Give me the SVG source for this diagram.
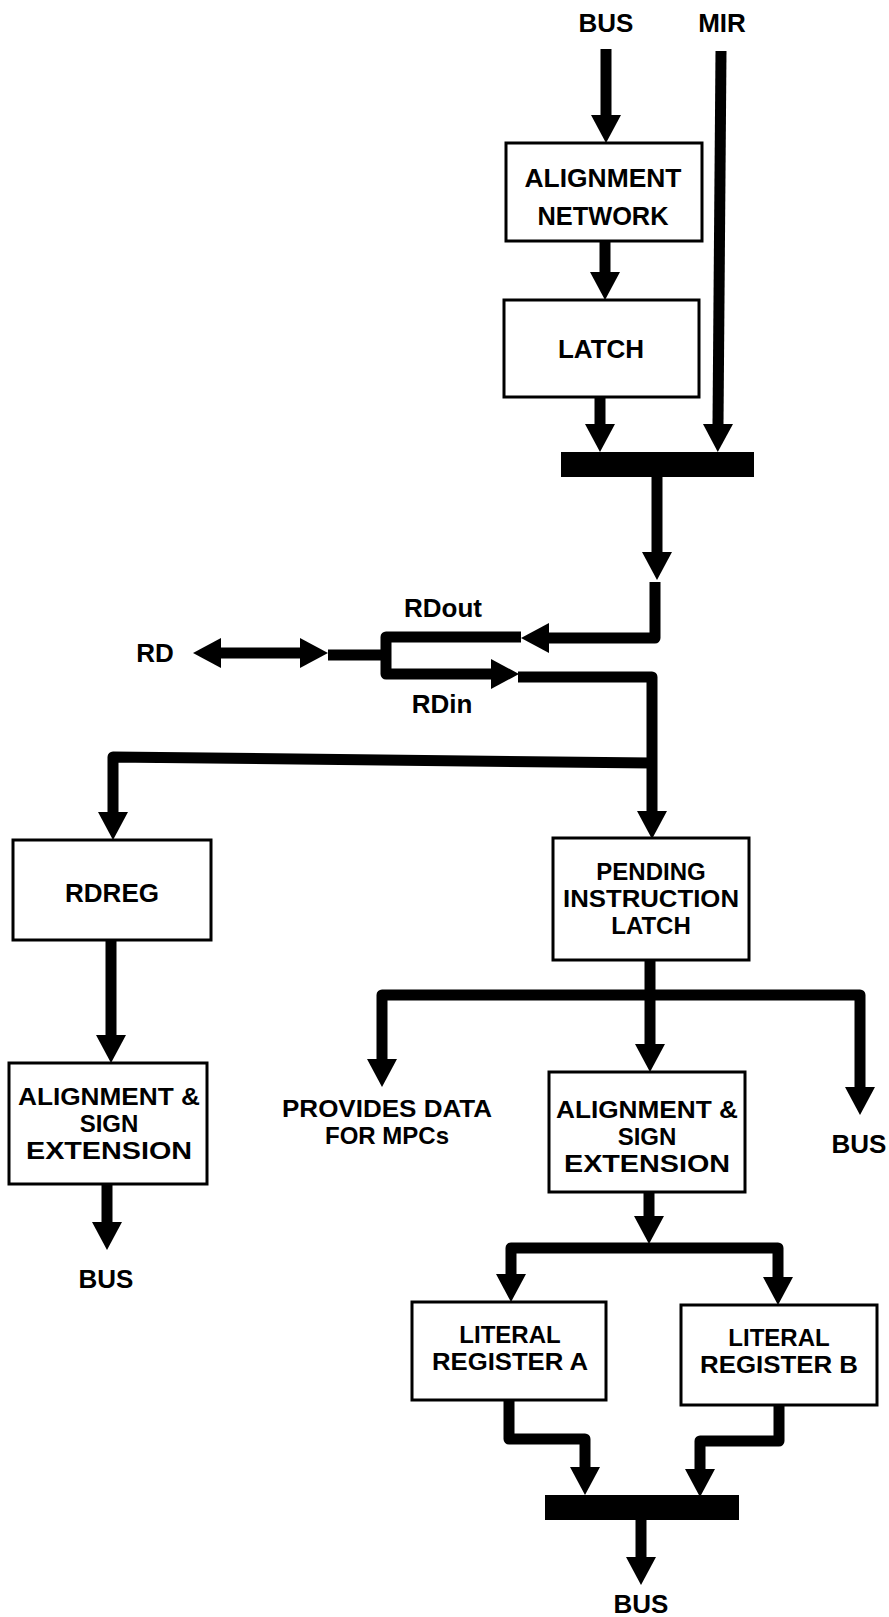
<svg xmlns="http://www.w3.org/2000/svg" width="889" height="1617" viewBox="0 0 889 1617">
<style>
.box{fill:#fff;stroke:#000;stroke-width:3}
.t{font-family:"Liberation Sans",Arial,sans-serif;font-weight:bold;font-size:24px;fill:#000;text-anchor:middle}
.s{font-size:26px}
.w{fill:none;stroke:#000;stroke-width:11;stroke-linejoin:round}
.a{marker-end:url(#ah)}
.b{marker-start:url(#ah);marker-end:url(#ah)}
</style>
<defs>
<marker id="ah" markerUnits="userSpaceOnUse" markerWidth="28" markerHeight="30" refX="0" refY="15" orient="auto-start-reverse" overflow="visible">
<path d="M0,0 L28,15 L0,30 Z" fill="#000"/>
</marker>
</defs>
<rect width="889" height="1617" fill="#fff"/>
<g id="connectors">
<path class="w a" d="M606,49 V115"/>
<path class="w a" d="M605,241 V272"/>
<path class="w a" d="M600,397 V424"/>
<path class="w a" d="M721,51 L718,424"/>
<path class="w a" d="M657,477 V552"/>
<path class="w a" d="M655,582 V638 H549"/>
<path class="w a" d="M521,637 H386 V674 H491"/>
<path class="w" d="M328,655 H386"/>
<path class="w b" d="M221,653 H300"/>
<path class="w a" d="M518,677 H652 V811"/>
<path class="w a" d="M652,763 L113,757 V812"/>
<path class="w a" d="M111,940 V1035"/>
<path class="w a" d="M107,1184 V1222"/>
<path class="w a" d="M650,960 V1044"/>
<path class="w b" d="M382,1059 V995 H860 V1087"/>
<path class="w a" d="M649,1192 V1216"/>
<path class="w b" d="M511,1274 V1248 H778 V1277"/>
<path class="w a" d="M509,1400 V1439 H585 V1467"/>
<path class="w a" d="M779,1405 V1441 H700 V1469"/>
<path class="w a" d="M641,1520 V1557"/>
<rect x="561" y="452" width="193" height="25" fill="#000"/>
<rect x="545" y="1495" width="194" height="25" fill="#000"/>
</g>
<g id="alignment-network"><rect class="box" x="506" y="143" width="196" height="98"/><text class="t s" x="603" y="187" textLength="157" lengthAdjust="spacingAndGlyphs">ALIGNMENT</text><text class="t s" x="603" y="225" textLength="131" lengthAdjust="spacingAndGlyphs">NETWORK</text></g>
<g id="latch"><rect class="box" x="504" y="300" width="195" height="97"/><text class="t s" x="601" y="358">LATCH</text></g>
<g id="rdreg"><rect class="box" x="13" y="840" width="198" height="100"/><text class="t s" x="112" y="902">RDREG</text></g>
<g id="pending"><rect class="box" x="553" y="838" width="196" height="122"/><text class="t" x="651" y="880">PENDING</text><text class="t" x="651" y="907" textLength="176" lengthAdjust="spacingAndGlyphs">INSTRUCTION</text><text class="t" x="651" y="934">LATCH</text></g>
<g id="align-left"><rect class="box" x="9" y="1063" width="198" height="121"/><text class="t" x="109" y="1105" textLength="182" lengthAdjust="spacingAndGlyphs">ALIGNMENT &amp;</text><text class="t" x="109" y="1132">SIGN</text><text class="t" x="109" y="1159" textLength="166" lengthAdjust="spacingAndGlyphs">EXTENSION</text></g>
<g id="align-mid"><rect class="box" x="549" y="1072" width="196" height="120"/><text class="t" x="647" y="1118" textLength="182" lengthAdjust="spacingAndGlyphs">ALIGNMENT &amp;</text><text class="t" x="647" y="1145">SIGN</text><text class="t" x="647" y="1172" textLength="166" lengthAdjust="spacingAndGlyphs">EXTENSION</text></g>
<g id="lit-a"><rect class="box" x="412" y="1302" width="194" height="98"/><text class="t" x="510" y="1343">LITERAL</text><text class="t" x="510" y="1370" textLength="156" lengthAdjust="spacingAndGlyphs">REGISTER A</text></g>
<g id="lit-b"><rect class="box" x="681" y="1305" width="196" height="100"/><text class="t" x="779" y="1346">LITERAL</text><text class="t" x="779" y="1373" textLength="158" lengthAdjust="spacingAndGlyphs">REGISTER B</text></g>
<g id="labels">
<text class="t s" x="606" y="32">BUS</text>
<text class="t s" x="722" y="32">MIR</text>
<text class="t s" x="155" y="662">RD</text>
<text class="t s" x="443" y="617">RDout</text>
<text class="t s" x="442" y="713">RDin</text>
<text class="t" x="387" y="1117" textLength="210" lengthAdjust="spacingAndGlyphs">PROVIDES DATA</text>
<text class="t" x="387" y="1144">FOR MPCs</text>
<text class="t s" x="859" y="1153">BUS</text>
<text class="t s" x="106" y="1288">BUS</text>
<text class="t s" x="641" y="1613">BUS</text>
</g>
</svg>
